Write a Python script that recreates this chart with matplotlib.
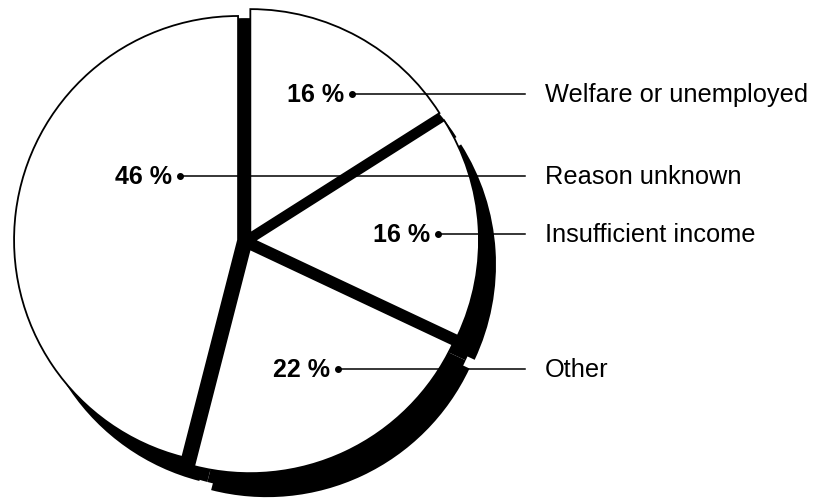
import matplotlib.pyplot as plt

# slices, clockwise from 12 o'clock
labels = ["Welfare or unemployed", "Insufficient income", "Other", "Reason unknown"]
shares = [16, 16, 22, 46]
explode = [9, 9, 9, 8]  # pixels

# label rows, top to bottom (percent text, legend text, row y in pixels from top)
row_names = ["Welfare or unemployed", "Reason unknown", "Insufficient income", "Other"]
row_pct = ["16 %", "46 %", "16 %", "22 %"]
row_y = [95, 177, 235, 370]
dot_x = [352, 180, 438, 338]

W, H = 824, 502
fig = plt.figure(figsize=(W / 100, H / 100), dpi=100)
ax = fig.add_axes([0, 0, 1, 1])

cx, cy, R = 246, H - 242, 224
shadow = (17, -24)

# black underlay fills the gaps between the pulled-out slices
ax.pie(shares, startangle=90, counterclock=False, center=(cx, cy), radius=R * 0.995,
       colors=["black"] * 4, wedgeprops=dict(linewidth=0))
ax.pie(shares, startangle=90, counterclock=False,
       center=(cx + shadow[0], cy + shadow[1]), radius=R * 1.0,
       colors=["black"] * 4, wedgeprops=dict(linewidth=0))
# drop shadow
ax.pie(shares, startangle=90, counterclock=False, explode=explode,
       center=(cx + shadow[0], cy + shadow[1]), radius=R,
       colors=["black"] * 4, wedgeprops=dict(linewidth=0))
# white slices
ax.pie(shares, startangle=90, counterclock=False, explode=explode,
       center=(cx, cy), radius=R,
       colors=["white"] * 4, wedgeprops=dict(edgecolor="black", linewidth=1.3))

for pct, name, y, x in zip(row_pct, row_names, row_y, dot_x):
    yy = H - y
    ax.plot([x, 525], [yy, yy], color="black", lw=1.1, zorder=5)
    ax.plot(x, yy, "o", color="black", ms=4, zorder=6)
    ax.text(x - 8, yy, pct, ha="right", va="center", fontsize=18, fontweight="bold",
            family="Liberation Sans", zorder=6)
    ax.text(545, yy, name, ha="left", va="center", fontsize=18.3,
            family="Liberation Sans", zorder=6)

ax.set_xlim(0, W)
ax.set_ylim(0, H)
ax.set_aspect("equal")
ax.axis("off")

fig.savefig("out.png", dpi=100, facecolor="white")
